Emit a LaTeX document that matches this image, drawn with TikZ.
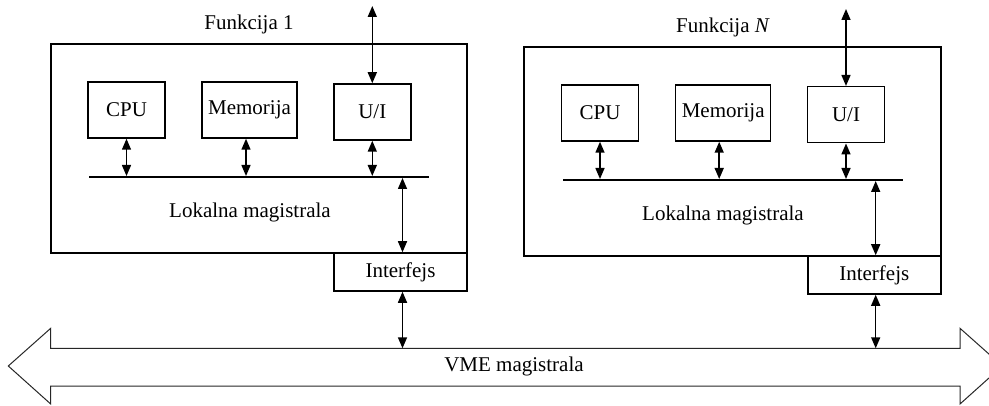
\documentclass[tikz,border=0pt]{standalone}
\usepackage{fontspec}
\setmainfont{Liberation Serif}
\usetikzlibrary{arrows.meta}
\tikzset{
  okvir/.style={draw, line width=1.6pt, minimum width=416pt, minimum height=209pt, inner sep=0pt},
  blok/.style={draw, line width=1.5pt, minimum width=77pt, minimum height=56pt, inner sep=0pt},
  sab/.style={fill=black, inner sep=0pt, minimum width=340pt, minimum height=1.6pt},
  intf/.style={draw, line width=1.5pt, minimum width=133pt, minimum height=38pt, inner sep=0pt},
  dv/.style={{Triangle[length=11pt,width=9pt]}-{Triangle[length=11pt,width=9pt]}, line width=1.5pt},
  vmel/.style={line width=1pt, draw=black!85},
  et/.style={inner sep=0pt},
}

\begin{document}
\begin{tikzpicture}[x=1pt,y=1pt,font=\fontsize{21}{25}\selectfont]
  \useasboundingbox (0,0) rectangle (989,405);
  \clip (0,0) rectangle (989,405);
  % Funkcija 1
  \node[okvir] (f1) at (259,256.5) {};
  \node[et] (t1) at (249,381) {Funkcija 1};
  \node[blok] (cpu1) at (126.5,295) {CPU};
  \node[blok, minimum width=95pt] (mem1) at (249.5,295) {Memorija};
  \node[blok] (ui1) at (372.3,293) {U/I};
  \node[sab] (sab1) at (259.3,228) {};
  \node[et] (lm1) at (250,193) {Lokalna magistrala};
  \node[intf] (if1) at (400.5,133) {Interfejs};
  \coordinate (izl1) at (372.3,399);
  % Funkcija N
  \node[okvir, minimum width=417pt] (f2) at (732.5,253.5) {};
  \node[et] (t2) at (723,378) {Funkcija \textit{N}};
  \node[blok] (cpu2) at (600,292) {CPU};
  \node[blok, minimum width=95pt] (mem2) at (723.2,292) {Memorija};
  \node[blok] (ui2) at (846,290.3) {U/I};
  \node[sab] (sab2) at (733,225) {};
  \node[et] (lm2) at (723,190) {Lokalna magistrala};
  \node[intf] (if2) at (874.3,130) {Interfejs};
  \coordinate (izl2) at (846,396);
  % VME magistrala
  \draw[vmel] (8.3,39) -- (50.7,76.7) -- (50.7,56.7) -- (960,56.7) -- (960,76.7)
    -- (1002.4,39) -- (960,1) -- (960,19) -- (50.7,19) -- (50.7,1) -- cycle;
  \coordinate (vme) at (0,56.7);
  \node[et] (vmet) at (514,39) {VME magistrala};
  % veze
  \draw[dv] (cpu1) -- (cpu1 |- sab1.north);
  \draw[dv] ([xshift=-3.5pt]mem1.south) -- ([xshift=-3.5pt]mem1.south |- sab1.north);
  \draw[dv] (ui1) -- (ui1 |- sab1.north);
  \draw[dv] (ui1) -- (izl1);
  \draw[dv] ([xshift=2pt]if1.north) -- ([xshift=2pt]if1.north |- sab1.south);
  \draw[dv] ([xshift=2pt]if1.south) -- ([xshift=2pt]if1.south |- vme);
  \draw[dv] (cpu2) -- (cpu2 |- sab2.north);
  \draw[dv] ([xshift=-4pt]mem2.south) -- ([xshift=-4pt]mem2.south |- sab2.north);
  \draw[dv] (ui2) -- (ui2 |- sab2.north);
  \draw[dv] (ui2) -- (izl2);
  \draw[dv] ([xshift=1.4pt]if2.north) -- ([xshift=1.4pt]if2.north |- sab2.south);
  \draw[dv] ([xshift=1.4pt]if2.south) -- ([xshift=1.4pt]if2.south |- vme);
\end{tikzpicture}
\end{document}
